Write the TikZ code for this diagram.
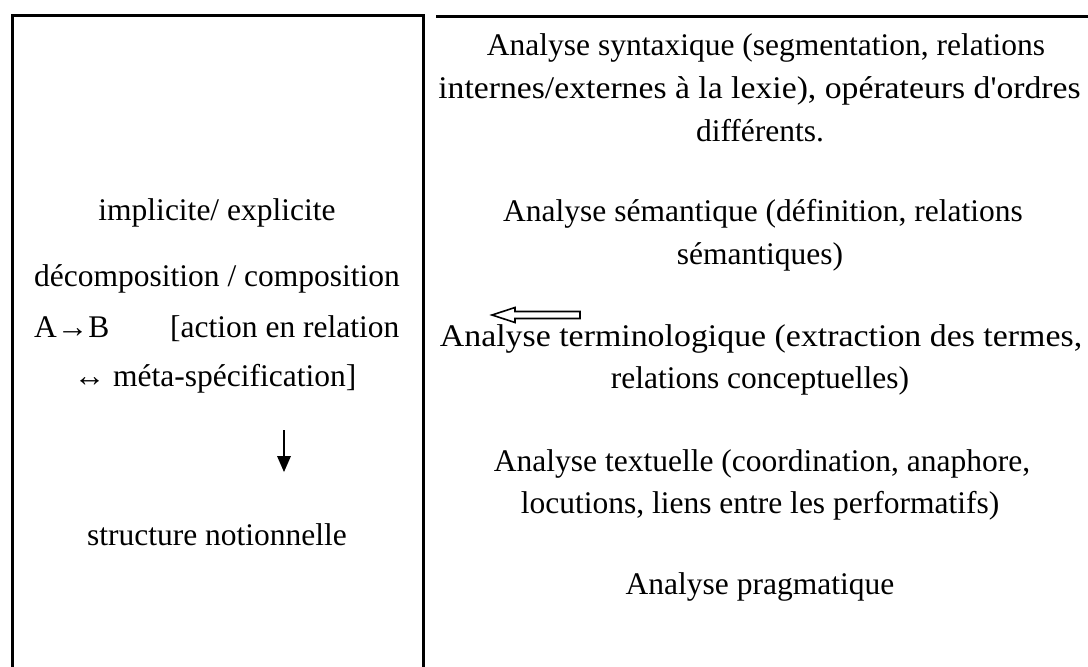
\documentclass[tikz,border=0pt]{standalone}
\usepackage{fontspec}
\usepackage{graphicx}
\setmainfont{Liberation Serif}
\begin{document}
\begin{tikzpicture}[x=1pt,y=-1pt,
  txt/.style={font=\fontsize{31.5}{38}\selectfont, inner sep=0pt, anchor=base},
  border/.style={line width=3pt, line cap=rect},
  hollow/.style={line width=1.6pt, line join=miter, fill=white},
  downarrow/.style={line width=1.8pt}]
\useasboundingbox (0,0) rectangle (1088,667);
% frames
\draw[border] (12,668) -- (12,15) -- (423,15) -- (423,668);
\draw[border] (437,16) -- (1088,16);
% left column
\node[txt] (l1) at (217,220) {implicite/ explicite};
\node[txt] (l2) at (217,286) {décomposition / composition};
\node[txt, anchor=base west] (l3a) at (34,337) {A→B};
\node[txt, anchor=base west] (l3b) at (170,337) {[action en relation};
\node[txt] (l4) at (215,386) {↔ méta-spécification]};
\node[txt] (l5) at (217,545) {structure notionnelle};
\coordinate (da) at (284,430);
\coordinate (db) at (284,472);
\draw[downarrow] (da) -- (284,458);
\fill (277,456) -- (291,456) -- (db) -- cycle;
% right column
\node[txt] (r1) at (766,55) {Analyse syntaxique (segmentation, relations};
\node[txt] (r2) at (759.5,98) {\scalebox{1.07}[1]{internes/externes à la lexie), opérateurs d\textquotesingle ordres}};
\node[txt] (r3) at (760,141) {différents.};
\node[txt] (r4) at (763,221) {Analyse sémantique (définition, relations};
\node[txt] (r5) at (760,264) {sémantiques)};
\node[txt] (r6) at (761,346) {\scalebox{1.075}[1]{Analyse terminologique (extraction des termes,}};
\node[txt] (r7) at (760,388) {relations conceptuelles)};
\node[txt] (r8) at (762,471) {Analyse textuelle (coordination, anaphore,};
\node[txt] (r9) at (760,513) {locutions, liens entre les performatifs)};
\node[txt] (r10) at (760,594) {Analyse pragmatique};
% hollow arrow
\coordinate (tip) at (492,315);
\draw[hollow] (tip) -- (515,307.5) -- (515,311.5) -- (580,311.5) -- (580,318.5) -- (515,318.5) -- (515,322.5) -- cycle;
\end{tikzpicture}
\end{document}
